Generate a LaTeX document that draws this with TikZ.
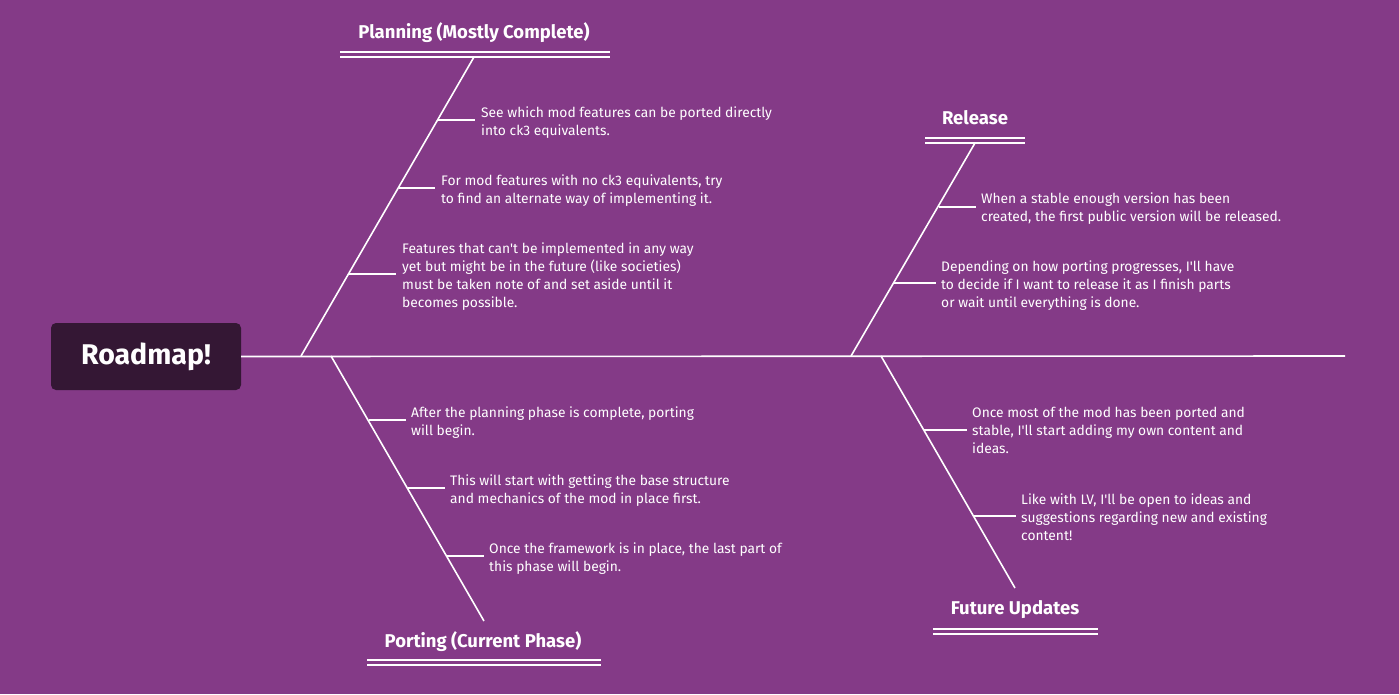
\documentclass[tikz,border=0pt]{standalone}
\usepackage{fontspec}
\setmainfont{Fira Sans}
\newfontfamily\firaplain{Fira Sans}
\usetikzlibrary{positioning,calc}
\definecolor{plum}{HTML}{843A87}
\definecolor{aubergine}{HTML}{341734}

\begin{document}
\begin{tikzpicture}[
  x=1pt,y=-1pt,
  font=\firaplain,
  bone/.style={draw=white,line width=1.6pt},
  twig/.style={draw=white,line width=1.5pt},
  bar/.style={draw=white,line width=1.5pt},
  head/.style={fill=aubergine,rounded corners=5pt,minimum width=190pt,minimum height=67pt,text=white,font=\firaplain\fontsize{28.5}{32}\selectfont\bfseries},
  ttl/.style={text=white,inner sep=0pt,font=\firaplain\fontsize{18.5}{22}\selectfont\bfseries},
  note/.style={text=white,inner sep=0pt,anchor=west,align=left,font=\firaplain\fontsize{13.8}{18}\selectfont}
]
\fill[plum] (0,0) rectangle (1399,694);
\useasboundingbox (0,0) rectangle (1399,694);
% --- head and spine -------------------------------------------------------
\node[head] (map) at (146,356.5) {Roadmap!};
\coordinate (tail) at (1345,356);
\draw[bone] (map.east) -- (tail);
% --- planning (top left) --------------------------------------------------
\coordinate (pl0) at (301,356);
\coordinate (pl1) at (474,57);
\draw[bone] (pl0) -- (pl1);
\node[ttl] (plT) at (474,33) {Planning (Mostly Complete)};
\draw[bar] (340,52) -- (610,52);
\draw[bar] (340,57) -- (610,57);
\node[note] (pl-a) at (481,122.5) {See which mod features can be ported directly\\into ck3 equivalents.};
\node[note] (pl-b) at (441,190.5) {For mod features with no ck3 equivalents, try\\to find an alternate way of implementing it.};
\node[note] (pl-c) at (402,276.5) {Features that can't be implemented in any way\\yet but might be in the future (like societies)\\must be taken note of and set aside until it\\becomes possible.};
\coordinate (pl-a0) at (437.5,120);
\coordinate (pl-b0) at (398.5,188);
\coordinate (pl-c0) at (349,274);
\foreach \n in {pl-a,pl-b,pl-c}{\draw[twig] (\n0) -- ([xshift=-6pt]\n.west |- \n0);}
% --- porting (bottom left) ------------------------------------------------
\coordinate (po0) at (331,356);
\coordinate (po1) at (484,621);
\draw[bone] (po0) -- (po1);
\node[ttl] (poT) at (483,642) {Porting (Current Phase)};
\draw[bar] (367,660) -- (601,660);
\draw[bar] (367,665) -- (601,665);
\node[note] (po-a) at (411,422.5) {After the planning phase is complete, porting\\will begin.};
\node[note] (po-b) at (450,490.5) {This will start with getting the base structure\\and mechanics of the mod in place first.};
\node[note] (po-c) at (489,558.5) {Once the framework is in place, the last part of\\this phase will begin.};
\coordinate (po-a0) at (368.5,420);
\coordinate (po-b0) at (408,488);
\coordinate (po-c0) at (447,556);
\foreach \n in {po-a,po-b,po-c}{\draw[twig] (\n0) -- ([xshift=-5pt]\n.west |- \n0);}
% --- release (top right) --------------------------------------------------
\coordinate (re0) at (851,356);
\coordinate (re1) at (975,143);
\draw[bone] (re0) -- (re1);
\node[ttl] (reT) at (975,118) {Release};
\draw[bar] (925,138) -- (1025,138);
\draw[bar] (925,143) -- (1025,143);
\node[note] (re-a) at (981,208.5) {When a stable enough version has been\\created, the first public version will be released.};
\node[note] (re-b) at (941,285.5) {Depending on how porting progresses, I'll have\\to decide if I want to release it as I finish parts\\or wait until everything is done.};
\coordinate (re-a0) at (938.5,207);
\coordinate (re-b0) at (894,283);
\foreach \n in {re-a,re-b}{\draw[twig] (\n0) -- ([xshift=-5pt]\n.west |- \n0);}
% --- future updates (bottom right) ----------------------------------------
\coordinate (fu0) at (881,356);
\coordinate (fu1) at (1015,588);
\draw[bone] (fu0) -- (fu1);
\node[ttl] (fuT) at (1015,610) {Future Updates};
\draw[bar] (933,629) -- (1098,629);
\draw[bar] (933,634) -- (1098,634);
\node[note] (fu-a) at (972,430.5) {Once most of the mod has been ported and\\stable, I'll start adding my own content and\\ideas.};
\node[note] (fu-b) at (1021,517.5) {Like with LV, I'll be open to ideas and\\suggestions regarding new and existing\\content!};
\coordinate (fu-a0) at (923.5,430);
\coordinate (fu-b0) at (973,516);
\foreach \n in {fu-a,fu-b}{\draw[twig] (\n0) -- ([xshift=-5pt]\n.west |- \n0);}
\end{tikzpicture}
\end{document}
